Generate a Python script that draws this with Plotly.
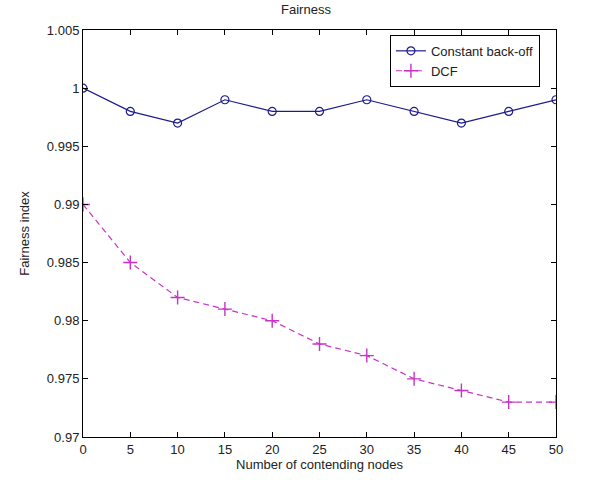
import plotly.graph_objects as go

nodes = [0, 5, 10, 15, 20, 25, 30, 35, 40, 45, 50]
constant_backoff = [1.0, 0.998, 0.997, 0.999, 0.998, 0.998, 0.999, 0.998, 0.997, 0.998, 0.999]
dcf = [0.990, 0.985, 0.982, 0.981, 0.980, 0.978, 0.977, 0.975, 0.974, 0.973, 0.973]
y_ticks = [0.97, 0.975, 0.98, 0.985, 0.99, 0.995, 1.0, 1.005]
y_ticktext = ["0.97", "0.975", "0.98", "0.985", "0.99", "0.995", "1", "1.005"]
x_ticks = [0, 5, 10, 15, 20, 25, 30, 35, 40, 45, 50]

FONT = "Liberation Sans Narrow, Liberation Sans, Arial"

fig = go.Figure()
fig.add_trace(go.Scatter(
    x=nodes, y=constant_backoff, name="Constant back-off", mode="lines+markers",
    line=dict(color="#1c1c8c", width=1.2),
    marker=dict(symbol="circle-open", size=8, color="#1c1c8c", line=dict(width=1.2)),
))
fig.add_trace(go.Scatter(
    x=nodes, y=dcf, name="DCF", mode="lines+markers",
    line=dict(color="#c832c8", width=1.2, dash="6px,4px"),
    marker=dict(symbol="cross-thin-open", size=10, color="#c832c8", line=dict(width=1.4, color="#c832c8")),
))

axis_common = dict(
    showline=True, linecolor="black", linewidth=1, mirror="ticks",
    ticks="inside", ticklen=5, tickcolor="black", showgrid=False, zeroline=False,
    tickfont=dict(family=FONT, size=13, color="#222"),
)
fig.update_xaxes(range=[0, 50], tickvals=x_ticks,
                 title=dict(text="Number of contending nodes", standoff=2,
                            font=dict(family=FONT, size=13, color="#222")),
                 **axis_common)
fig.update_yaxes(range=[0.97, 1.005], tickvals=y_ticks, ticktext=y_ticktext,
                 title=dict(text="Fairness index", standoff=14,
                            font=dict(family=FONT, size=13, color="#222")),
                 **axis_common)

fig.update_layout(
    width=612, height=480,
    margin=dict(l=83, r=56, t=30, b=40),
    paper_bgcolor="white", plot_bgcolor="white",
    title=dict(text="Fairness", x=0.5, xanchor="center", y=0.99, yanchor="top",
               font=dict(family=FONT, size=13, color="#222")),
    legend=dict(x=0.966, xanchor="right", y=0.988, yanchor="top",
                bordercolor="black", borderwidth=1, bgcolor="white",
                font=dict(family=FONT, size=13, color="#222"),
                tracegroupgap=0, itemwidth=30),
    showlegend=True,
)

fig.write_html("out.html")
